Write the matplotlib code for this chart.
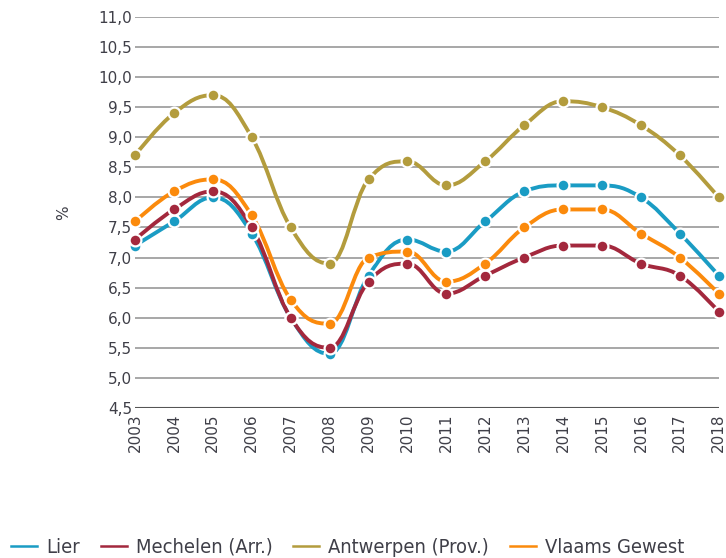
import matplotlib
matplotlib.use("Agg")
import matplotlib.pyplot as plt
import numpy as np
from matplotlib.path import Path
from matplotlib.patches import PathPatch
from matplotlib.lines import Line2D

years = list(range(2003, 2019))
lier = [7.2, 7.6, 8.0, 7.4, 6.0, 5.4, 6.7, 7.3, 7.1, 7.6, 8.1, 8.2, 8.2, 8.0, 7.4, 6.7]
mechelen = [7.3, 7.8, 8.1, 7.5, 6.0, 5.5, 6.6, 6.9, 6.4, 6.7, 7.0, 7.2, 7.2, 6.9, 6.7, 6.1]
antwerpen = [8.7, 9.4, 9.7, 9.0, 7.5, 6.9, 8.3, 8.6, 8.2, 8.6, 9.2, 9.6, 9.5, 9.2, 8.7, 8.0]
vlaams = [7.6, 8.1, 8.3, 7.7, 6.3, 5.9, 7.0, 7.1, 6.6, 6.9, 7.5, 7.8, 7.8, 7.4, 7.0, 6.4]

series = [
    ("Lier", lier, "#1a9cc4"),
    ("Mechelen (Arr.)", mechelen, "#a3283d"),
    ("Antwerpen (Prov.)", antwerpen, "#b39c3d"),
    ("Vlaams Gewest", vlaams, "#fb8a0c"),
]


def spline_path(xs, ys, smoothing=1.5):
    # highcharts-style spline control points
    n = len(xs)
    verts = [(xs[0], ys[0])]
    codes = [Path.MOVETO]
    left = [None] * n
    right = [None] * n
    d = smoothing + 1
    for i in range(1, n - 1):
        px, py = xs[i], ys[i]
        lx, ly = xs[i - 1], ys[i - 1]
        nx, ny = xs[i + 1], ys[i + 1]
        lcx = (smoothing * px + lx) / d
        lcy = (smoothing * py + ly) / d
        rcx = (smoothing * px + nx) / d
        rcy = (smoothing * py + ny) / d
        corr = (rcy - lcy) * (rcx - px) / (rcx - lcx) + py - rcy
        lcy += corr
        rcy += corr
        if lcy > ly and lcy > py:
            lcy = max(ly, py)
            rcy = 2 * py - lcy
        elif lcy < ly and lcy < py:
            lcy = min(ly, py)
            rcy = 2 * py - lcy
        if rcy > ny and rcy > py:
            rcy = max(ny, py)
            lcy = 2 * py - rcy
        elif rcy < ny and rcy < py:
            rcy = min(ny, py)
            lcy = 2 * py - rcy
        left[i] = (lcx, lcy)
        right[i] = (rcx, rcy)
    for i in range(1, n):
        c1 = right[i - 1] if right[i - 1] else (xs[i - 1], ys[i - 1])
        c2 = left[i] if left[i] else (xs[i], ys[i])
        verts += [c1, c2, (xs[i], ys[i])]
        codes += [Path.CURVE4] * 3
    return Path(verts, codes)


fig = plt.figure(figsize=(7.26, 5.58), dpi=100)
ax = fig.add_axes([0.186, 0.269, 0.804, 0.7005])

for name, vals, col in series:
    p = PathPatch(spline_path(years, vals), facecolor="none", edgecolor=col,
                  lw=2.8, capstyle="round", joinstyle="round", clip_on=False)
    ax.add_patch(p)
    ax.plot(years, vals, "o", color=col, ms=8.5, mec="white", mew=1.6,
            clip_on=False, zorder=3)

ax.set_xlim(2003, 2018)
ax.set_ylim(4.5, 11.0)
yt = np.arange(4.5, 11.01, 0.5)
ax.set_yticks(yt)
ax.set_yticklabels([f"{v:.1f}".replace(".", ",") for v in yt])
ax.set_xticks(years)
ax.set_xticklabels([str(y) for y in years], rotation=90)
ax.tick_params(axis="both", length=0, labelsize=11, colors="#3f3f48")
ax.tick_params(axis="y", pad=2)
ax.tick_params(axis="x", pad=4)
ax.grid(axis="y", color="#a0a0a0", lw=1.3)
ax.set_axisbelow(True)
for s in ax.spines.values():
    s.set_visible(False)
ax.axhline(4.5, color="#555555", lw=1.5, zorder=1)
ax.set_ylabel("%", fontsize=11, color="#3f3f48", labelpad=20)

handles = [Line2D([], [], color=c, lw=1.8) for _, _, c in series]
fig.legend(handles, [n for n, _, _ in series], loc="center left",
           bbox_to_anchor=(0.004, 0.019), ncol=4, frameon=False,
           borderaxespad=0, handlelength=1.3, handletextpad=0.45,
           columnspacing=1.05,
           prop={"size": 14.4, "stretch": "condensed"}, labelcolor="#3f3f48")

fig.savefig("out.png", dpi=100)
